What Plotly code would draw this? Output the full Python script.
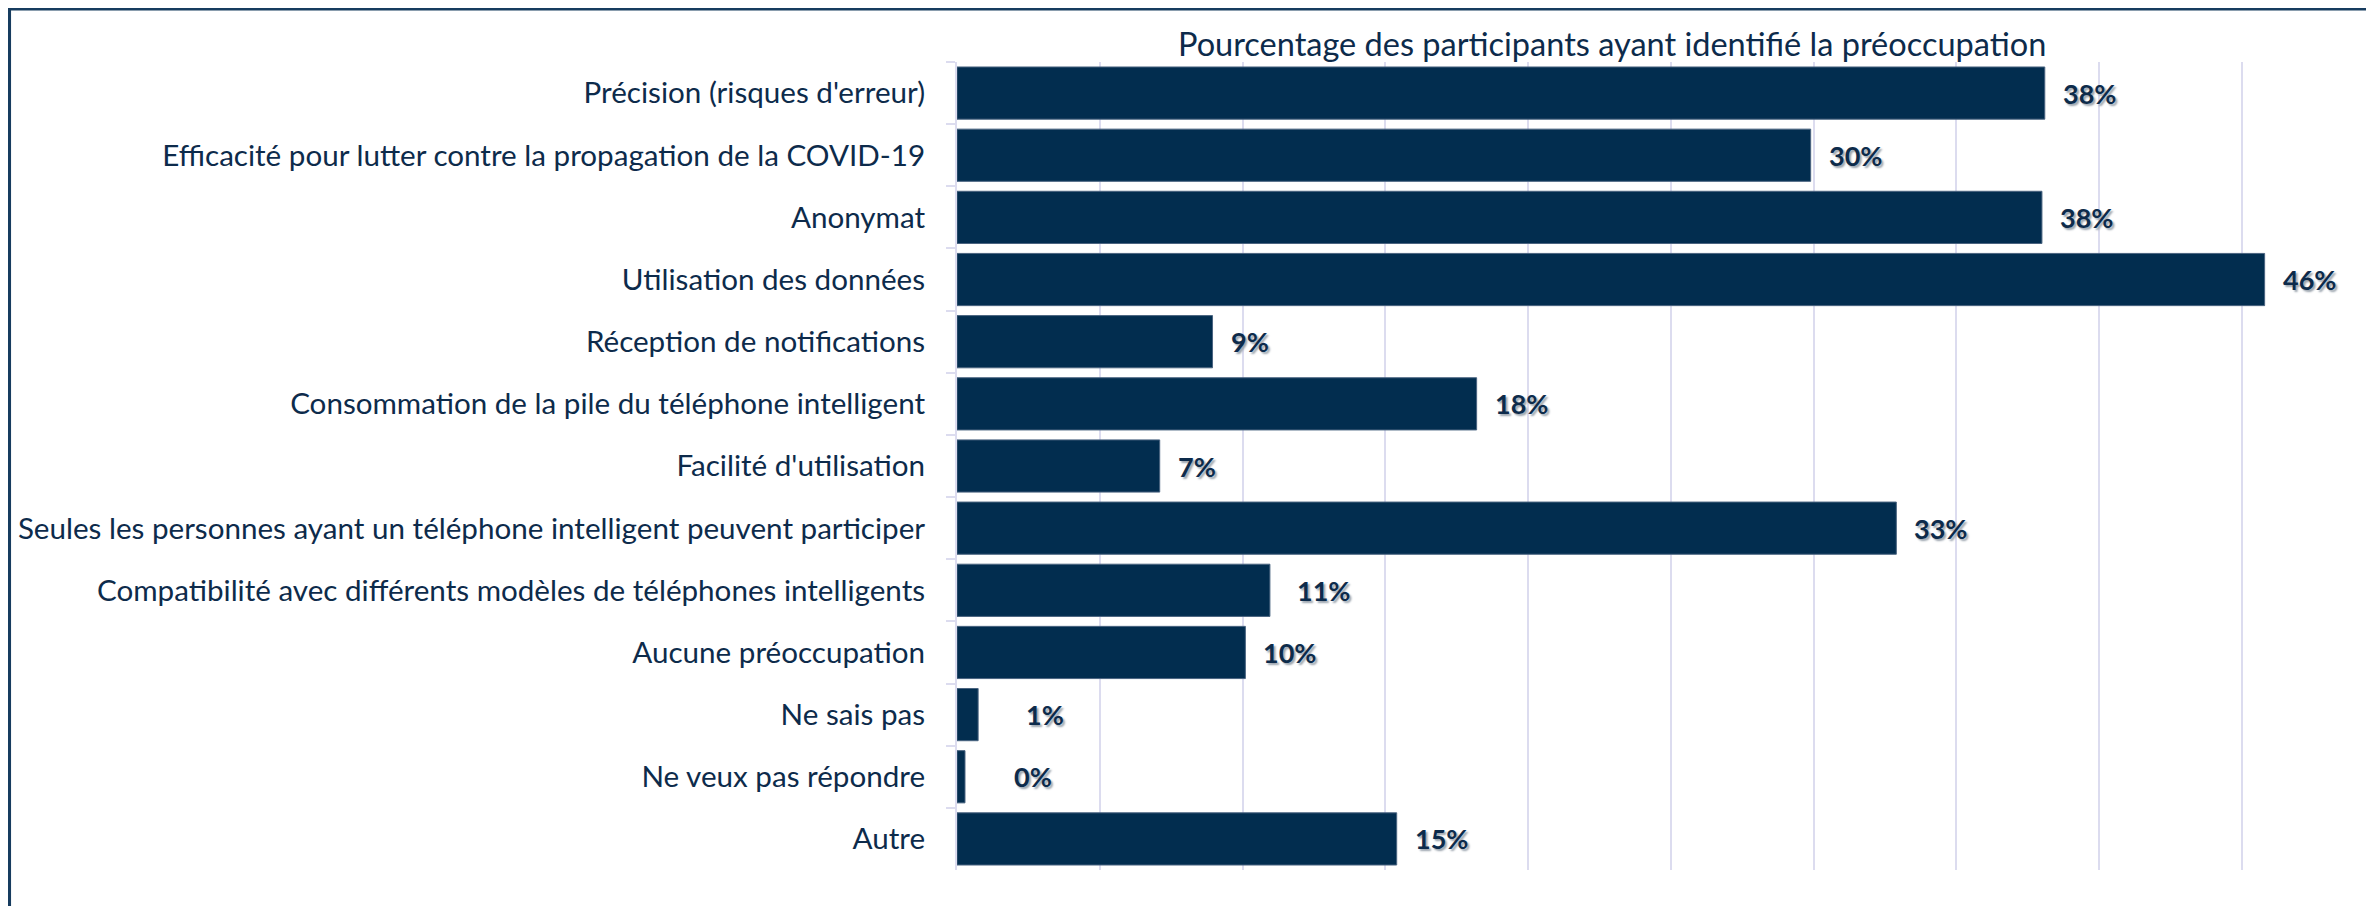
import plotly.graph_objects as go

categories = [
    "Précision (risques d'erreur)",
    "Efficacité pour lutter contre la propagation de la COVID-19",
    "Anonymat",
    "Utilisation des données",
    "Réception de notifications",
    "Consommation de la pile du téléphone intelligent",
    "Facilité d'utilisation",
    "Seules les personnes ayant un téléphone intelligent peuvent participer",
    "Compatibilité avec différents modèles de téléphones intelligents",
    "Aucune préoccupation",
    "Ne sais pas",
    "Ne veux pas répondre",
    "Autre",
]
values = [38.1, 29.9, 38.0, 45.8, 8.95, 18.2, 7.1, 32.9, 10.96, 10.1, 0.74, 0.28, 15.4]
value_labels = ["38%", "30%", "38%", "46%", "9%", "18%", "7%", "33%", "11%", "10%", "1%", "0%", "15%"]
title_text = "Pourcentage des participants ayant identifié la préoccupation"

# label gap from bar end (style), px
label_gaps = [16, 16, 16, 16, 16, 16, 16, 16, 25, 16, 46, 47, 16]

# page has an 8px body margin; size the figure to fit the 2374x906 window
W, H = 2366, 898
ML, MR, MT, MB = 949, 18, 54, 36

NAVY = "#022d4f"
TEXT = "#0d2b4b"
GRID = "#dcdcef"
FRAME = "#173c5f"
FONT = "Lato"

fig = go.Figure()
fig.add_trace(go.Bar(
    x=values, y=categories, orientation="h",
    marker=dict(color=NAVY, line=dict(color="#4a6480", width=1)),
    hoverinfo="x+y",
))

for v, c, t, g in zip(values, categories, value_labels, label_gaps):
    fig.add_annotation(
        x=v, y=c, text=t, xanchor="left", yanchor="middle",
        xshift=g, showarrow=False,
        font=dict(family=FONT, size=27, color=TEXT, weight="bold",
                  shadow="2px 2px 2px #9aa3ad"),
    )

pw = W - ML - MR
ph = H - MT - MB
def px_x(p):
    return (p - ML) / pw
def px_y(p):
    return (H - MB - p) / ph

# title
fig.add_annotation(
    x=px_x(1604), y=px_y(36), xref="paper", yref="paper",
    text=title_text, showarrow=False, xanchor="center", yanchor="middle",
    font=dict(family=FONT, size=32.5, color=TEXT),
)

# outer frame (top and left edges)
fig.add_shape(type="line", xref="paper", yref="paper",
              x0=px_x(0), x1=px_x(W + 5), y0=px_y(1.2), y1=px_y(1.2),
              line=dict(color=FRAME, width=2.6), layer="above")
fig.add_shape(type="line", xref="paper", yref="paper",
              x0=px_x(1.3), x1=px_x(1.3), y0=px_y(0), y1=px_y(H + 5),
              line=dict(color=FRAME, width=3.5), layer="above")

fig.update_layout(
    width=W, height=H,
    margin=dict(l=ML, r=MR, t=MT, b=MB, autoexpand=False),
    paper_bgcolor="white", plot_bgcolor="white",
    showlegend=False, bargap=0.16,
    font=dict(family=FONT, color=TEXT),
    xaxis=dict(range=[0, 49], dtick=5, showticklabels=False, showgrid=True,
               gridcolor=GRID, gridwidth=2, zeroline=False, showline=False,
               fixedrange=True),
    yaxis=dict(autorange="reversed", showline=True, linecolor=GRID, linewidth=2,
               ticks="outside", tickson="boundaries", ticklen=9, tickcolor=GRID,
               tickwidth=2, ticklabelstandoff=24,
               tickfont=dict(family=FONT, size=29.6, color=TEXT),
               showgrid=False, fixedrange=True),
)

fig.write_html("out.html")
